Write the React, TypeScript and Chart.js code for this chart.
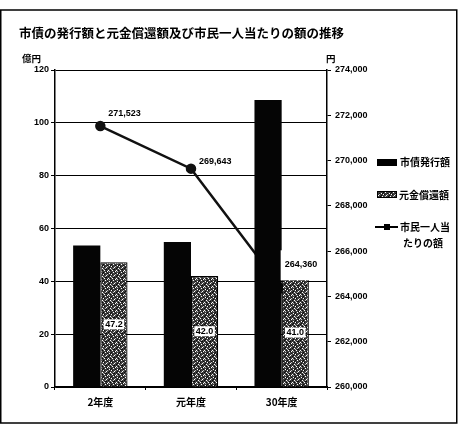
import React, { useEffect, useRef } from "react";
import { Chart, registerables } from "chart.js";

Chart.register(...registerables);

const titleText = "市債の発行額と元金償還額及び市民一人当たりの額の推移";
const categories = ["2年度", "元年度", "30年度"];
const issuance = [53.6, 54.9, 108.6];
const repayment = [47.2, 42.0, 41.0];
const perCapita = [271523, 269643, 264360];
const seriesNames = ["市債発行額", "元金償還額", "市民一人当たりの額"];
const leftUnit = "億円";
const rightUnit = "円";

const W = 466;
const H = 428;
const NUM_FONT = '"Liberation Sans", "Noto Sans CJK JP", sans-serif';
const JP_FONT = '"Noto Sans CJK JP", "Liberation Sans", sans-serif';

function makePattern(): CanvasPattern | string {
  const c = document.createElement("canvas");
  c.width = 8;
  c.height = 8;
  const g = c.getContext("2d");
  if (!g) return "#555";
  g.fillStyle = "#3e3e3e";
  g.fillRect(0, 0, 8, 8);
  g.fillStyle = "#ffffff";
  const whites = [[1, 0], [5, 1], [2, 3], [6, 4], [0, 6], [4, 6], [3, 7], [7, 2]];
  whites.forEach(([x, y]) => g.fillRect(x, y, 1, 1));
  g.fillStyle = "#bdbdbd";
  const greys = [[3, 2], [7, 5], [1, 4], [5, 7]];
  greys.forEach(([x, y]) => g.fillRect(x, y, 1, 1));
  g.fillStyle = "#0a0a0a";
  const blacks = [[3, 1], [0, 2], [5, 3], [1, 5], [6, 6], [7, 0], [2, 7], [4, 4], [6, 1], [2, 5]];
  blacks.forEach(([x, y]) => g.fillRect(x, y, 1, 1));
  const p = g.createPattern(c, "repeat");
  return p || "#555";
}

export default function App() {
  const ref = useRef<HTMLCanvasElement | null>(null);

  useEffect(() => {
    if (!ref.current) return;
    const pattern = makePattern();

    const decor = {
      id: "decor",
      afterDatasetsDraw(chart: any) {
        const ctx = chart.ctx as CanvasRenderingContext2D;
        ctx.save();
        const bm = chart.getDatasetMeta(1);
        ctx.font = `bold 9px ${NUM_FONT}`;
        ctx.textAlign = "center";
        ctx.textBaseline = "middle";
        bm.data.forEach((el: any, i: number) => {
          const t = repayment[i].toFixed(1);
          const cy = (el.y + el.base) / 2;
          const w = ctx.measureText(t).width + 3;
          ctx.fillStyle = "#ffffff";
          ctx.fillRect(el.x - w / 2, cy - 5, w, 10);
          ctx.fillStyle = "#000";
          ctx.fillText(t, el.x, cy);
        });
        const lm = chart.getDatasetMeta(2);
        const offs = [[8, -13], [8, -7], [3, -24]];
        ctx.textAlign = "left";
        lm.data.forEach((el: any, i: number) => {
          const t = perCapita[i].toLocaleString("en-US");
          const x = el.x + offs[i][0];
          const y = el.y + offs[i][1];
          if (i === 2) {
            const w = ctx.measureText(t).width;
            ctx.fillStyle = "#ffffff";
            ctx.fillRect(x - 4, y - 14, w + 8, 30);
          }
          ctx.fillStyle = "#000";
          ctx.fillText(t, x, y);
        });
        ctx.restore();
      },
      afterDraw(chart: any) {
        const ctx = chart.ctx as CanvasRenderingContext2D;
        ctx.save();
        ctx.strokeStyle = "#000";
        ctx.lineWidth = 1.5;
        ctx.strokeRect(0.75, 10, 456, 413);
        ctx.fillStyle = "#000";
        ctx.font = `bold 12.5px ${JP_FONT}`;
        ctx.textAlign = "left";
        ctx.textBaseline = "middle";
        ctx.fillText(titleText, 19, 33);
        ctx.font = `bold 9.5px ${JP_FONT}`;
        ctx.fillText(leftUnit, 22, 58);
        ctx.fillText(rightUnit, 326, 58);
        ctx.fillStyle = "#000";
        ctx.fillRect(377, 159, 20, 7);
        ctx.fillStyle = pattern as any;
        ctx.fillRect(377, 191, 20, 7);
        ctx.lineWidth = 1;
        ctx.strokeRect(377.5, 191.5, 19, 6);
        ctx.beginPath();
        ctx.lineWidth = 2;
        ctx.moveTo(375, 227);
        ctx.lineTo(398, 227);
        ctx.stroke();
        ctx.fillStyle = "#000";
        ctx.fillRect(384, 224, 6, 6);
        ctx.font = `bold 10px ${JP_FONT}`;
        ctx.fillText(seriesNames[0], 400, 162);
        ctx.fillText(seriesNames[1], 399, 195);
        const n = seriesNames[2];
        ctx.fillText(n.slice(0, 5), 400, 227);
        ctx.fillText(n.slice(5), 403, 243);
        ctx.restore();
      },
    };

    const chart = new Chart(ref.current, {
      type: "bar",
      data: {
        labels: categories,
        datasets: [
          {
            type: "bar",
            label: seriesNames[0],
            data: issuance,
            backgroundColor: "#050505",
            borderWidth: 0,
            yAxisID: "y",
            order: 1,
            categoryPercentage: 0.6,
            barPercentage: 1.0,
          },
          {
            type: "bar",
            label: seriesNames[1],
            data: repayment,
            backgroundColor: pattern as any,
            borderColor: "#000",
            borderWidth: 1.2,
            yAxisID: "y",
            order: 1,
            categoryPercentage: 0.6,
            barPercentage: 1.0,
          },
          {
            type: "line",
            label: seriesNames[2],
            data: perCapita,
            borderColor: "#111",
            backgroundColor: "#111",
            borderWidth: 2.5,
            pointRadius: 4,
            pointBackgroundColor: "#111",
            pointBorderColor: "#111",
            yAxisID: "y1",
            order: 2,
            tension: 0,
          },
        ] as any,
      },
      options: {
        responsive: false,
        animation: false,
        layout: { padding: { top: 70, left: 0, right: 0, bottom: 0 } },
        plugins: {
          legend: { display: false },
          title: { display: false },
          tooltip: { enabled: false },
        },
        scales: {
          x: {
            type: "category",
            offset: true,
            grid: {
              display: true,
              drawOnChartArea: false,
              offset: true,
              tickLength: 3,
              color: "#000",
            },
            border: { display: true, color: "#000", width: 1.5 },
            ticks: {
              color: "#000",
              padding: 6,
              font: { family: JP_FONT, size: 10, weight: "bold" },
            },
            afterFit(s: any) {
              s.height = 41;
            },
          },
          y: {
            type: "linear",
            position: "left",
            min: 0,
            max: 120,
            ticks: {
              stepSize: 20,
              color: "#000",
              padding: 2,
              font: { family: NUM_FONT, size: 9, weight: "bold" },
            },
            grid: { color: "#000", lineWidth: 1, tickLength: 4 },
            border: { display: true, color: "#000", width: 1.5 },
            afterFit(s: any) {
              s.width = 55;
            },
          },
          y1: {
            type: "linear",
            position: "right",
            min: 260000,
            max: 274000,
            ticks: {
              stepSize: 2000,
              color: "#000",
              padding: 4,
              font: { family: NUM_FONT, size: 9, weight: "bold" },
              callback: (v: any) => Number(v).toLocaleString("en-US"),
            },
            grid: { drawOnChartArea: false, color: "#000", tickLength: 4 },
            border: { display: true, color: "#000", width: 1.5 },
            afterFit(s: any) {
              s.width = 139;
            },
          },
        },
      } as any,
      plugins: [decor],
    });

    return () => {
      chart.destroy();
    };
  }, []);

  return (
    <div style={{ position: "absolute", left: 0, top: 0, width: W, height: H, background: "#fff" }}>
      <canvas ref={ref} width={W} height={H} style={{ width: W, height: H, display: "block" }} />
    </div>
  );
}
